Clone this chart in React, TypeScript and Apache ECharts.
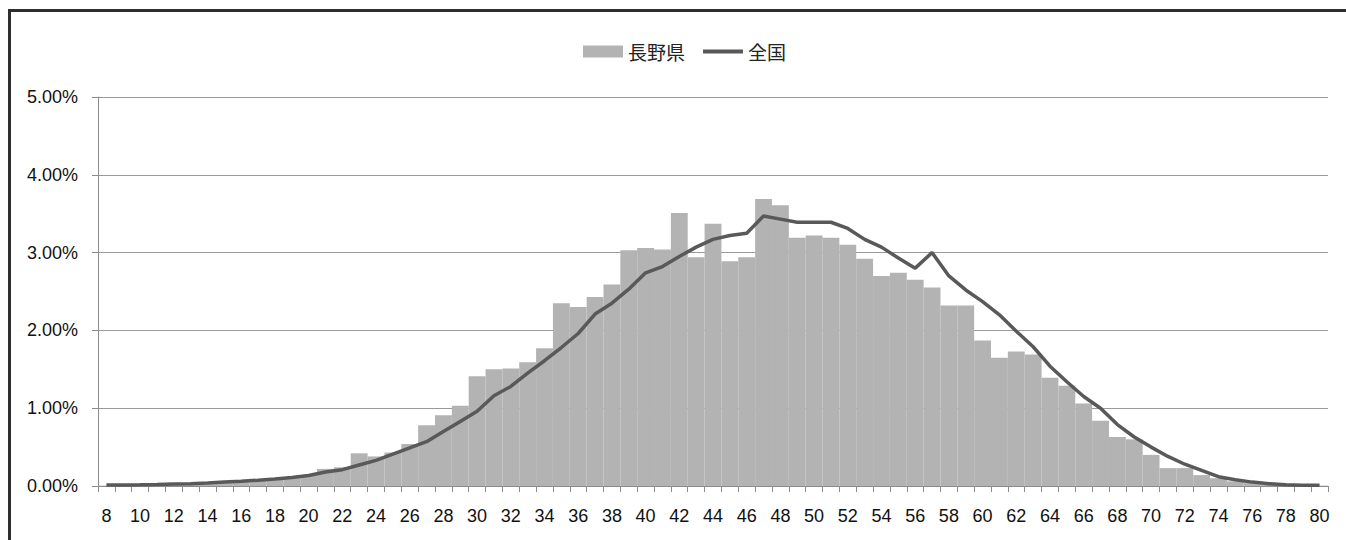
import React, { useEffect, useRef } from "react";
import * as echarts from "echarts";

const ages: string[] = [];
for (let a = 8; a <= 80; a++) ages.push(String(a));

// 長野県 (%), ages 8..80
const naganoValues = [
  0.005, 0.006, 0.008, 0.012, 0.018, 0.025, 0.03, 0.04, 0.055, 0.065, 0.085, 0.11, 0.14,
  0.22, 0.24, 0.42, 0.38, 0.43, 0.54, 0.78, 0.91, 1.03, 1.41, 1.5, 1.51, 1.59, 1.77,
  2.35, 2.3, 2.43, 2.59, 3.03, 3.06, 3.04, 3.51, 2.94, 3.37, 2.89, 2.94, 3.69, 3.61,
  3.19, 3.22, 3.19, 3.1, 2.92, 2.7, 2.74, 2.65, 2.55, 2.32, 2.32, 1.87, 1.65, 1.73,
  1.69, 1.39, 1.29, 1.06, 0.84, 0.63, 0.6, 0.4, 0.23, 0.23, 0.14, 0.1, 0.06, 0.04,
  0.02, 0.01, 0.01, 0.005,
];

// 全国 (%), ages 8..80
const nationalValues = [
  0.012, 0.014, 0.016, 0.02, 0.025, 0.03, 0.038, 0.05, 0.062, 0.075, 0.09, 0.11, 0.135,
  0.18, 0.21, 0.27, 0.33, 0.41, 0.49, 0.57, 0.7, 0.83, 0.96, 1.16, 1.28, 1.45, 1.61,
  1.78, 1.96, 2.21, 2.35, 2.53, 2.74, 2.82, 2.95, 3.07, 3.17, 3.22, 3.25, 3.47, 3.43,
  3.39, 3.39, 3.39, 3.31, 3.17, 3.07, 2.93, 2.8, 3.0, 2.7, 2.52, 2.37, 2.2, 1.99,
  1.79, 1.54, 1.34, 1.15, 1.0, 0.79, 0.63, 0.5, 0.38, 0.28, 0.2, 0.12, 0.08, 0.05,
  0.03, 0.015, 0.01, 0.01,
];

const seriesNames = ["長野県", "全国"];

const latinFont = "'Liberation Sans', Arial, sans-serif";
const cjkFont = "'Noto Sans CJK JP', sans-serif";

export default function App() {
  const ref = useRef<HTMLDivElement>(null);

  useEffect(() => {
    if (!ref.current) return;
    const chart = echarts.init(ref.current, undefined, { renderer: "svg" });
    chart.setOption({
      animation: false,
      backgroundColor: "#ffffff",
      legend: {
        left: 578,
        top: 37,
        itemWidth: 40,
        itemHeight: 12,
        itemGap: 18,
        data: [
          { name: seriesNames[0], icon: "rect", itemStyle: { color: "#b3b3b3" } },
          { name: seriesNames[1], icon: "path://M0 0H40V4H0Z", itemStyle: { color: "#595959" } },
        ],
        textStyle: { fontFamily: cjkFont, fontSize: 19, color: "#222" },
      },
      grid: { left: 98, right: 18, top: 97, bottom: 54 },
      xAxis: {
        type: "category",
        data: ages,
        boundaryGap: true,
        axisLine: { show: true, lineStyle: { color: "#8c8c8c", width: 1 } },
        axisTick: { show: true, interval: 0, alignWithLabel: false, length: 6, lineStyle: { color: "#8c8c8c" } },
        axisLabel: {
          interval: 1,
          margin: 21,
          fontFamily: latinFont,
          fontSize: 18,
          color: "#111",
        },
        splitLine: { show: false },
      },
      yAxis: {
        type: "value",
        min: 0,
        max: 5,
        interval: 1,
        axisLine: { show: true, lineStyle: { color: "#8c8c8c", width: 1 } },
        axisTick: { show: true, length: 6, lineStyle: { color: "#8c8c8c" } },
        axisLabel: {
          margin: 20,
          fontFamily: latinFont,
          fontSize: 18,
          color: "#111",
          formatter: (v: number) => v.toFixed(2) + "%",
        },
        splitLine: { show: true, lineStyle: { color: "#9a9a9a", width: 1 } },
      },
      series: [
        {
          name: seriesNames[0],
          type: "bar",
          data: naganoValues,
          barCategoryGap: "0%",
          itemStyle: { color: "#b3b3b3" },
        },
        {
          name: seriesNames[1],
          type: "line",
          data: nationalValues,
          symbol: "none",
          showSymbol: false,
          lineStyle: { color: "#595959", width: 3.5 },
          itemStyle: { color: "#595959" },
          z: 5,
        },
      ],
    });
    return () => chart.dispose();
  }, []);

  return (
    <>
      <div
        ref={ref}
        style={{ position: "fixed", left: 0, top: 0, width: 1346, height: 540 }}
      />
      <div
        style={{
          position: "fixed",
          left: 8,
          top: 9,
          width: 1400,
          height: 600,
          borderTop: "3px solid #2e2e2e",
          borderLeft: "3px solid #2e2e2e",
          pointerEvents: "none",
        }}
      />
    </>
  );
}
